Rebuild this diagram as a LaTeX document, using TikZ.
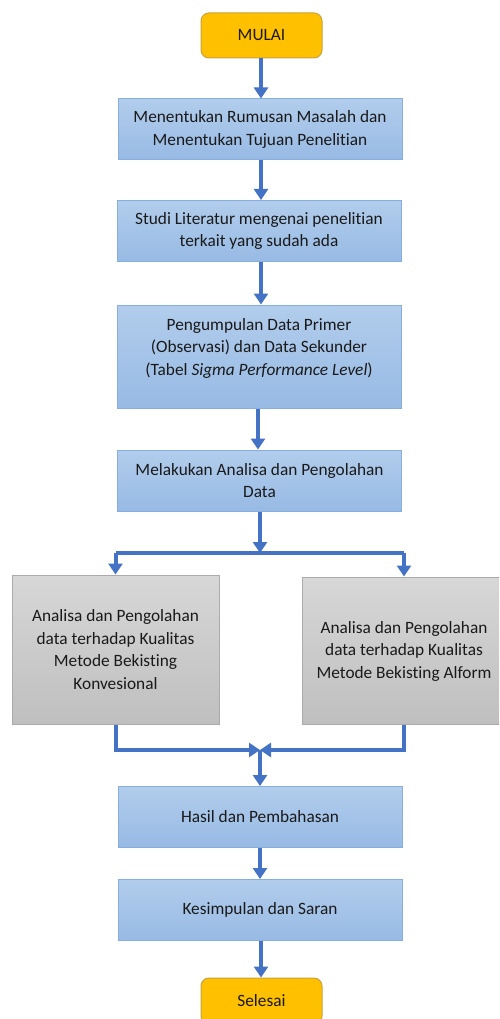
\documentclass[tikz,border=0pt]{standalone}
\usepackage{fontspec}
\setmainfont{Carlito}[Ligatures=NoCommon]
\usetikzlibrary{arrows.meta,shapes.misc}
\definecolor{gold}{HTML}{FFC000}
\definecolor{goldline}{HTML}{C9A23E}
\definecolor{bluetop}{HTML}{B2CDEC}
\definecolor{bluebot}{HTML}{97BAE4}
\definecolor{blueline}{HTML}{86AEDE}
\definecolor{graytop}{HTML}{D7D7D7}
\definecolor{graybot}{HTML}{BFBFBF}
\definecolor{grayline}{HTML}{ABABAB}
\definecolor{arrblue}{HTML}{4472C4}
\definecolor{txt}{HTML}{1A1A1A}
\tikzset{
  x=1pt, y=-1pt,
  base/.style={font=\fontsize{17.3}{22.5}\selectfont, text=txt, align=center, inner sep=0pt},
  term/.style={base, rounded corners=8pt, fill=gold, draw=goldline, line width=1pt,
    minimum width=121pt, minimum height=45pt},
  bluebox/.style={base, draw=blueline, line width=1pt, top color=bluetop, bottom color=bluebot,
    minimum width=284pt, minimum height=61pt},
  graybox/.style={base, draw=grayline, line width=1pt, top color=graytop, bottom color=graybot,
    minimum width=207pt, minimum height=148pt},
  label/.style={base},
  arr/.style={draw=arrblue, line width=4pt, -{Triangle[width=14pt,length=11pt]}},
  ln/.style={draw=arrblue, line width=4pt},
}
\begin{document}
\begin{tikzpicture}
\useasboundingbox (0,0) rectangle (499,1019);
\clip (0,0) rectangle (499,1019);
\node[term] (start) at (261.5,35.5) {MULAI};
\node[bluebox] (b1) at (260,129.5) {Menentukan Rumusan Masalah dan\\Menentukan Tujuan Penelitian};
\node[bluebox] (b2) at (259,231) {Studi Literatur mengenai penelitian\\terkait yang sudah ada};
\node[bluebox, minimum height=103pt] (b3) at (259,356.5) {};
\node[label] (t3) at (259,348) {Pengumpulan Data Primer\\(Observasi) dan Data Sekunder\\(Tabel \textit{Sigma Performance Level})};
\node[bluebox] (b4) at (259.5,480.5) {Melakukan Analisa dan Pengolahan\\Data};
\node[graybox, minimum height=149pt] (gl) at (115.5,649.5) {Analisa dan Pengolahan\\data terhadap Kualitas\\Metode Bekisting\\Konvesional};
\node[graybox, minimum width=204pt, minimum height=147pt] (gr) at (404,650.5) {};
\node[label] (tr) at (404,651) {Analisa dan Pengolahan\\data terhadap Kualitas\\Metode Bekisting Alform};
\node[bluebox] (b5) at (260,817) {Hasil dan Pembahasan};
\node[bluebox] (b6) at (260,910) {Kesimpulan dan Saran};
\node[term, minimum height=46pt] (end) at (261.5,1001) {Selesai};

\coordinate (j1) at (260,553);
\coordinate (j2) at (260,750);

\draw[arr] (start.south -| 261,0) -- (b1.north -| 261,0);
\draw[arr] (b1.south -| 261,0) -- (b2.north -| 261,0);
\draw[arr] (b2.south -| 261,0) -- (b3.north -| 261,0);
\draw[arr] (b3.south -| 258,0) -- (b4.north -| 258,0);
\draw[arr] (b4.south -| 260,0) -- (j1);
\draw[ln] (gl.north |- j1) -- (gr.north |- j1);
\draw[arr] (gl.north |- j1) -- (gl.north);
\draw[arr] (gr.north |- j1) -- (gr.north);
\draw[arr] (gl.south) -- (gl.south |- j2) -- (j2);
\draw[arr] (gr.south) -- (gr.south |- j2) -- (j2);
\draw[arr] (j2) -- (b5.north);
\draw[arr] (b5.south) -- (b6.north);
\draw[arr] (b6.south -| 261,0) -- (end.north -| 261,0);
\end{tikzpicture}
\end{document}
